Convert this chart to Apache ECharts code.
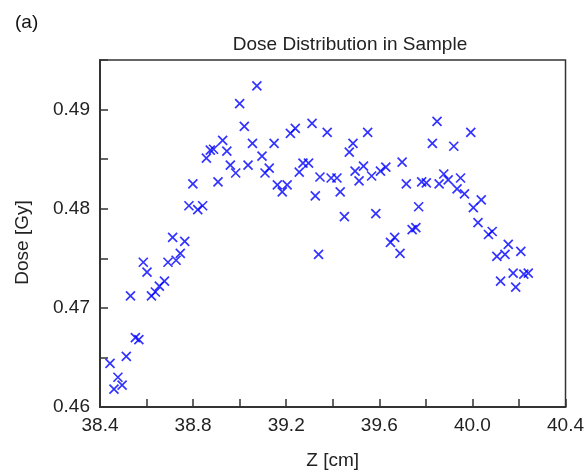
<!DOCTYPE html>
<html>
<head>
<meta charset="utf-8">
<script src="https://cdn.jsdelivr.net/npm/echarts@6/dist/echarts.min.js"></script>
<style>
  html, body { margin: 0; padding: 0; background: #fff; }
  #chart { width: 587px; height: 475px; }
</style>
</head>
<body>
<div id="chart"></div>
<script>
// Z [cm] and dose [Gy]
const zVals = [
  38.443, 38.460, 38.477, 38.495, 38.513, 38.531, 38.552, 38.567, 38.586, 38.602,
  38.621, 38.638, 38.655, 38.677, 38.692, 38.712, 38.727, 38.745, 38.764, 38.782,
  38.799, 38.820, 38.841, 38.857, 38.874, 38.888, 38.907, 38.927, 38.945, 38.960,
  38.983, 39.000, 39.020, 39.036, 39.055, 39.074, 39.096, 39.109, 39.127, 39.148,
  39.162, 39.183, 39.204, 39.218, 39.239, 39.256, 39.272, 39.296, 39.311, 39.325,
  39.339, 39.345, 39.376, 39.393, 39.418, 39.432, 39.450, 39.471, 39.487, 39.496,
  39.513, 39.532, 39.550, 39.567, 39.585, 39.605, 39.628, 39.648, 39.666, 39.689,
  39.698, 39.716, 39.741, 39.757, 39.769, 39.782, 39.802, 39.828, 39.848, 39.857,
  39.877, 39.896, 39.920, 39.934, 39.949, 39.966, 39.993, 40.004, 40.024, 40.038,
  40.069, 40.085, 40.105, 40.121, 40.140, 40.154, 40.175, 40.186, 40.208, 40.221,
  40.240
];
const doseVals = [
  0.4644, 0.4618, 0.4630, 0.4622, 0.4651, 0.4712, 0.4670, 0.4668, 0.4746, 0.4736,
  0.4712, 0.4716, 0.4722, 0.4727, 0.4746, 0.4771, 0.4748, 0.4755, 0.4767, 0.4803,
  0.4825, 0.4799, 0.4803, 0.4851, 0.4859, 0.4860, 0.4827, 0.4869, 0.4858, 0.4844,
  0.4836, 0.4906, 0.4883, 0.4844, 0.4866, 0.4924, 0.4853, 0.4836, 0.4841, 0.4866,
  0.4824, 0.4817, 0.4824, 0.4876, 0.4881, 0.4837, 0.4846, 0.4846, 0.4886, 0.4813,
  0.4754, 0.4832, 0.4877, 0.4831, 0.4831, 0.4817, 0.4792, 0.4857, 0.4866, 0.4838,
  0.4828, 0.4843, 0.4877, 0.4833, 0.4795, 0.4838, 0.4842, 0.4766, 0.4771, 0.4755,
  0.4847, 0.4825, 0.4779, 0.4781, 0.4802, 0.4827, 0.4826, 0.4866, 0.4888, 0.4825,
  0.4835, 0.4829, 0.4863, 0.4820, 0.4831, 0.4815, 0.4877, 0.4801, 0.4786, 0.4809,
  0.4774, 0.4777, 0.4752, 0.4727, 0.4754, 0.4764, 0.4735, 0.4721, 0.4757, 0.4734,
  0.4735
];

const points = zVals.map((z, i) => [z, doseVals[i]]);

const font = 'Liberation Sans, Arial, sans-serif';
const chart = echarts.init(document.getElementById('chart'));
chart.setOption({
  animation: false,
  backgroundColor: '#fff',
  title: [
    { text: '(a)', left: 10, top: 8, textStyle: { fontFamily: font, fontSize: 19, fontWeight: 'normal', color: '#111' } },
    { text: 'Dose Distribution in Sample', left: 345, textAlign: 'center', top: 30,
      textStyle: { fontFamily: font, fontSize: 19, fontWeight: 'normal', color: '#222' } }
  ],
  grid: {
    left: 100, right: 9, top: 60, bottom: 66,
    show: true, borderColor: '#333', borderWidth: 1.5
  },
  xAxis: {
    type: 'value',
    min: 38.4, max: 40.4, interval: 0.2,
    name: 'Z [cm]', nameLocation: 'middle', nameGap: 44,
    nameTextStyle: { fontFamily: font, fontSize: 19, color: '#222' },
    axisLine: { lineStyle: { color: '#333', width: 2 } },
    axisTick: { inside: true, length: 8, lineStyle: { color: '#333', width: 1.5 } },
    axisLabel: {
      fontFamily: font, fontSize: 19, color: '#222', margin: 9,
      formatter: v => (Math.round(v * 10) % 4 === 0 ? v.toFixed(1) : '')
    },
    splitLine: { show: false }
  },
  yAxis: {
    type: 'value',
    min: 0.46, max: 0.495, interval: 0.005,
    name: 'Dose [Gy]', nameLocation: 'middle', nameGap: 68,
    nameTextStyle: { fontFamily: font, fontSize: 19, color: '#222', padding: [0, 18, 0, 0] },
    axisLine: { lineStyle: { color: '#333', width: 2 } },
    axisTick: { inside: true, length: 8, lineStyle: { color: '#333', width: 1.5 } },
    axisLabel: {
      fontFamily: font, fontSize: 19, color: '#222', margin: 10,
      formatter: v => (Math.round(v * 1000) % 10 === 0 ? v.toFixed(2) : '')
    },
    splitLine: { show: false }
  },
  series: [{
    type: 'scatter',
    data: points,
    symbol: 'path://M0,0L10,10M10,0L0,10',
    symbolSize: 9,
    itemStyle: { color: 'none', borderColor: '#0000ff', borderWidth: 1.7 }
  }]
});
</script>
</body>
</html>
